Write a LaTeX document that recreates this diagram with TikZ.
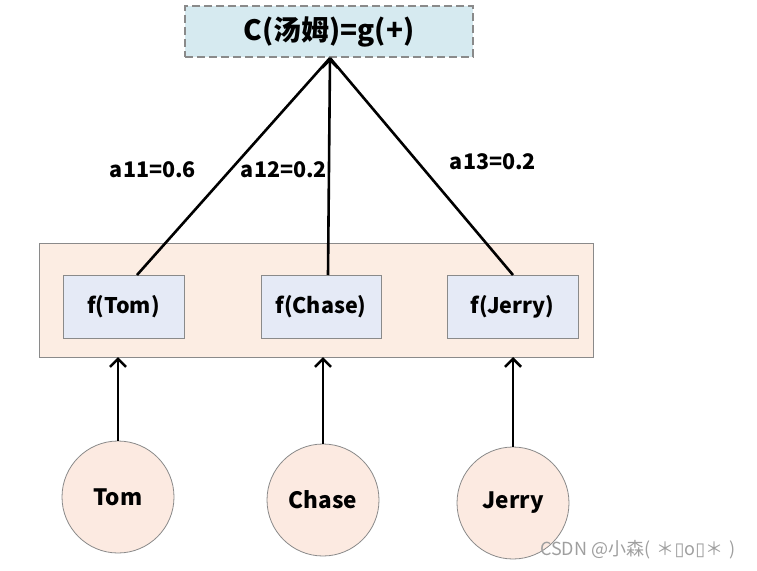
\documentclass[tikz,border=0pt]{standalone}
\usepackage{fontspec}
\setmainfont{Noto Sans CJK SC}
\newfontfamily\cjk{Noto Sans CJK SC}
\newfontfamily\dejavu{DejaVu Sans}
\usetikzlibrary{arrows.meta}
\definecolor{topfill}{HTML}{D6EAF0}
\definecolor{outfill}{HTML}{FCEDE3}
\definecolor{ffill}{HTML}{E5EAF6}
\definecolor{cfill}{HTML}{FCEAE1}
\definecolor{edgegray}{HTML}{8A8A8A}
\tikzset{
  topbox/.style={draw=edgegray, dash pattern=on 8pt off 4pt, line width=1.4pt, fill=topfill, minimum width=288pt, minimum height=51pt, inner sep=0pt, font=\bfseries\fontsize{28}{32}\selectfont},
  outbox/.style={draw=edgegray, line width=0.8pt, fill=outfill, minimum width=554pt, minimum height=114pt, inner sep=0pt},
  fbox/.style={draw=edgegray, line width=0.8pt, fill=ffill, minimum height=63pt, inner sep=0pt, font=\bfseries\fontsize{21.5}{24}\selectfont},
  inode/.style={circle, draw=edgegray, line width=0.8pt, fill=cfill, minimum size=112pt, inner sep=0pt, font=\bfseries\fontsize{22.5}{25}\selectfont},
  wlabel/.style={font=\bfseries\fontsize{21.5}{24}\selectfont, inner sep=0pt},
  conn/.style={line width=2.6pt, black},
  arr/.style={line width=2.6pt, black, -{Straight Barb[length=8pt, width=16pt, line width=2.6pt]}},
}
\begin{document}
\begin{tikzpicture}[x=1pt, y=-1pt]
\useasboundingbox (0,0) rectangle (757,570);
\node[topbox] (top) at (329,31.5) {C(汤姆)=g(+)};
\node[outbox] (outer) at (316,300) {};
\node[fbox, minimum width=121pt] (ftom) at (123.5,306.5) {f(Tom)};
\node[fbox, minimum width=120pt] (fchase) at (321,306.5) {f(Chase)};
\node[fbox, minimum width=131pt] (fjerry) at (512.5,306.5) {f(Jerry)};
\coordinate (apex) at (330,58);
\coordinate (tomtop) at (137,275);
\coordinate (chasetop) at (328,275);
\coordinate (jerrytop) at (513,275);
\draw[conn] (tomtop) -- (apex);
\draw[conn] (jerrytop) -- (apex);
\draw[arr] (chasetop) -- (apex);
\node[inode] (tom) at (118,497) {Tom};
\node[inode] (chase) at (323,500) {Chase};
\node[inode] (jerry) at (513,503) {Jerry};
\coordinate (intom) at (118,357);
\coordinate (inchase) at (323,357);
\coordinate (injerry) at (513,357);
\draw[arr] (tom.north) -- (intom);
\draw[arr] (chase.north) -- (inchase);
\draw[arr] (jerry.north) -- (injerry);
\node[wlabel] (a11) at (153,170) {a11=0.6};
\node[wlabel] (a12) at (284,170) {a12=0.2};
\node[wlabel] (a13) at (493,162) {a13=0.2};
\node[font=\cjk\fontsize{18}{20}\selectfont, text=gray!75, inner sep=0pt, anchor=west] (wm) at (540,550) {CSDN @小森( \hspace{2pt}＊{\dejavu ▯}o{\dejavu ▯}＊\hspace{2pt} )};
\end{tikzpicture}
\end{document}
